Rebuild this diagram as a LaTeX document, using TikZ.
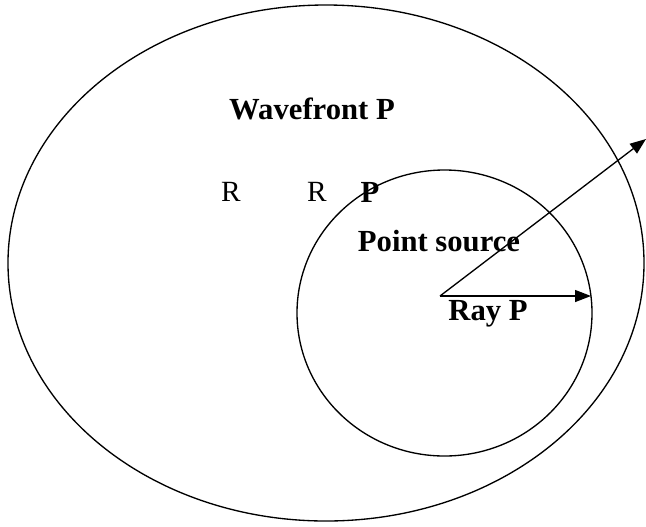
\documentclass[tikz,border=0pt]{standalone}
\usepackage{fontspec}
\setmainfont{Liberation Serif}
\usepackage{tikz}
\usetikzlibrary{arrows.meta, positioning}

\begin{document}
\begin{tikzpicture}[x=0.75pt, y=-0.75pt, font=\fontsize{22}{26}\selectfont,
  front/.style={draw, line width=1pt},
  ray/.style={-{Triangle[length=12pt, width=9pt]}, line width=1pt},
  lbl/.style={font=\fontsize{23}{27}\selectfont\bfseries, inner sep=0pt}]
  \useasboundingbox (0,0) rectangle (646,526);

  % Wavefronts
  \draw[front] (326,263) ellipse (318 and 258);
  \draw[front] (444.5,313) ellipse (147.5 and 143);

  % Source and ray ends
  \coordinate (src) at (440,296);
  \coordinate (tipP) at (591,296);
  \coordinate (tipQ) at (646,139);

  % Rays
  \draw[ray] (src) -- (tipP);
  \draw[ray] (src) -- (tipQ);

  % Labels
  \node[lbl] (wave) at (312,109) {Wavefront P};
  \node[inner sep=0pt] (r1) at (231,192) {R};
  \node[inner sep=0pt] (r2) at (317,192) {R};
  \node[lbl] (p1) at (370,192) {P};
  \node[lbl] (point) at (439,241) {Point source};
  \node[lbl] (rayp) at (488,314) {Ray P};
\end{tikzpicture}
\end{document}
